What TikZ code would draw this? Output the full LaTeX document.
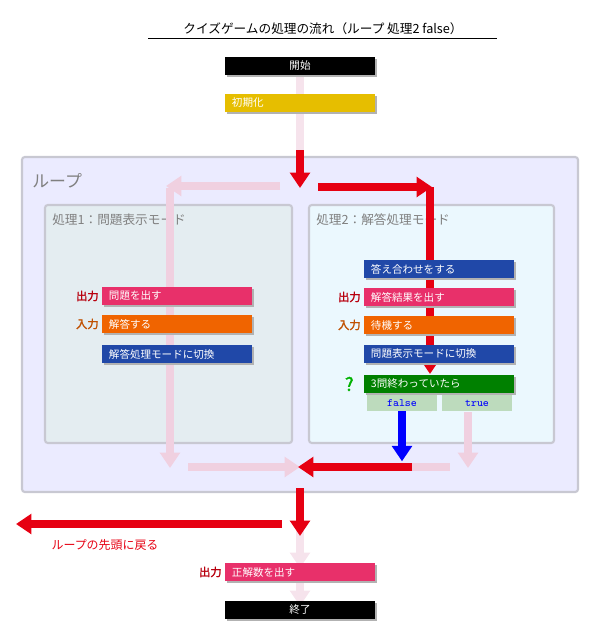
\documentclass[tikz,border=0pt]{standalone}
\usepackage{fontspec}
\setmainfont{Noto Sans CJK JP}[AutoFakeBold=2]
\usetikzlibrary{arrows.meta,positioning,shadows}
\definecolor{myblue}{RGB}{32,72,168}
\definecolor{mypink}{RGB}{232,48,106}
\definecolor{myorange}{RGB}{240,100,0}
\definecolor{mygreen}{RGB}{0,128,0}
\definecolor{myyellow}{RGB}{230,190,0}
\definecolor{myred}{RGB}{230,0,18}
\definecolor{mypale}{RGB}{240,208,224}
\definecolor{myloop}{RGB}{235,235,255}
\definecolor{myframe}{RGB}{200,200,210}

\begin{document}
\begin{tikzpicture}[x=0.025cm,y=-0.025cm,
    job/.style={rectangle,minimum width=3.75cm,minimum height=0.45cm,text width=3.4cm,
      inner sep=0pt,align=left,font=\fontsize{7.5}{8}\selectfont,text=white,
      drop shadow={shadow xshift=1.2pt,shadow yshift=-1.2pt,fill=black!30,opacity=1}},
    term/.style={job,fill=black,align=center},
    io/.style={font=\fontsize{8}{9}\selectfont\bfseries,anchor=east,inner sep=1pt},
    branch/.style={rectangle,fill=green!30!gray!40,minimum width=1.75cm,minimum height=0.4cm,
      inner sep=0pt,text=blue,font=\ttfamily\fontsize{8}{9}\selectfont},
    panel/.style={draw=myframe,line width=1.5pt,rounded corners=2pt},
    caption/.style={anchor=west,text=gray,inner sep=0pt},
    flow/.style={line width=5.5pt,-{Triangle[length=11pt,width=14pt]}},
    faint/.style={flow,mypale}
  ]
  \useasboundingbox (0,0) rectangle (600,638);

  % title
  \node (title) at (323,29) {\fontsize{9}{10}\selectfont クイズゲームの処理の流れ（ループ 処理2 false）};
  \draw (148,38) -- (497,38);

  % the loop
  \draw[panel,fill=myloop] (22,157) rectangle (578,492);
  \node[caption] (loop) at (32,181) {\fontsize{12}{13}\selectfont ループ};
  \draw[panel,fill=gray!20!cyan!8!white!95!black] (45,205) rectangle (292,443);
  \node[caption] (p1) at (52,220) {\fontsize{9}{10}\selectfont 処理1：問題表示モード};
  \draw[panel,fill=cyan!8!white] (309,205) rectangle (554,443);

  % faint stems
  \coordinate (s0) at (300,75);
  \coordinate (s1) at (300,150);
  \draw[mypale!60,line width=5.5pt] (s0) -- (s1);
  \coordinate (a1) at (280,186);
  \coordinate (a2) at (166,186);
  \draw[faint] (a1) -- (a2);
  \coordinate (a3) at (170,188);
  \coordinate (a4) at (170,468);
  \draw[faint] (a3) -- (a4);
  \coordinate (m1) at (188,467);
  \coordinate (m2) at (300,467);
  \draw[faint] (m1) -- (m2);
  \coordinate (t1) at (468,412);
  \coordinate (t2) at (468,468);
  \draw[faint] (t1) -- (t2);
  \coordinate (t3) at (450,467);
  \coordinate (t4) at (412,467);
  \draw[mypale,line width=5.5pt] (t3) -- (t4);
  \coordinate (e1) at (300,528);
  \coordinate (e2) at (300,568);
  \draw[faint,mypale!60] (e1) -- (e2);
  \coordinate (e3) at (300,582);
  \coordinate (e4) at (300,606);
  \draw[faint,mypale!60] (e3) -- (e4);

  \node[caption] (p2) at (316,220) {\fontsize{9}{10}\selectfont 処理2：解答処理モード};

  % red flow
  \coordinate (r1) at (300,150);
  \coordinate (r2) at (300,188);
  \draw[flow,myred] (r1) -- (r2);
  \coordinate (r3) at (318,187);
  \coordinate (r4) at (432,187);
  \draw[flow,myred] (r3) -- (r4);
  \coordinate (r5) at (430,187);
  \coordinate (r6) at (430,374);
  \draw[flow,myred] (r5) -- (r6);

  % jobs of 1
  \node[job,fill=mypink] (q1) at (177,296) {問題を出す};
  \node[job,fill=myorange] (q2) at (177,324) {解答する};
  \node[job,fill=myblue] (q3) at (177,354) {解答処理モードに切換};
  \node[io,text=myred!80!black,left=1pt of q1] {出力};
  \node[io,text=myorange!80!black,left=1pt of q2] {入力};

  % jobs of 2
  \node[job,fill=myblue] (k1) at (439,269) {答え合わせをする};
  \node[job,fill=mypink] (k2) at (439,297) {解答結果を出す};
  \node[job,fill=myorange] (k3) at (439,325) {待機する};
  \node[job,fill=myblue] (k4) at (439,354) {問題表示モードに切換};
  \node[job,fill=mygreen] (k5) at (439,384) {3問終わっていたら};
  \node[io,text=myred!80!black,left=1pt of k2] {出力};
  \node[io,text=myorange!80!black,left=1pt of k3] {入力};
  \node[io,text=green!70!black,font=\fontsize{13}{14}\selectfont\bfseries,left=6pt of k5] {?};
  \node[branch] (no) at (402,403) {false};
  \node[branch] (yes) at (477,403) {true};

  % leaving the loop
  \draw[flow,blue] (no.south) -- ++(0,50);
  \coordinate (b1) at (412,467);
  \coordinate (b2) at (298,467);
  \draw[flow,myred] (b1) -- (b2);
  \coordinate (d1) at (300,488);
  \coordinate (d2) at (300,536);
  \draw[flow,myred] (d1) -- (d2);
  \coordinate (d3) at (282,524);
  \coordinate (d4) at (16,524);
  \draw[flow,myred] (d3) -- (d4);
  \node[text=myred,font=\fontsize{8.5}{9}\selectfont] (back) at (105,545) {ループの先頭に戻る};

  % start and end
  \node[term] (start) at (300,66) {開始};
  \node[job,fill=myyellow] (init) at (300,103) {初期化};
  \node[job,fill=mypink] (score) at (300,572) {正解数を出す};
  \node[io,text=myred!80!black,left=1pt of score] {出力};
  \node[term] (stop) at (300,610) {終了};
\end{tikzpicture}
\end{document}
